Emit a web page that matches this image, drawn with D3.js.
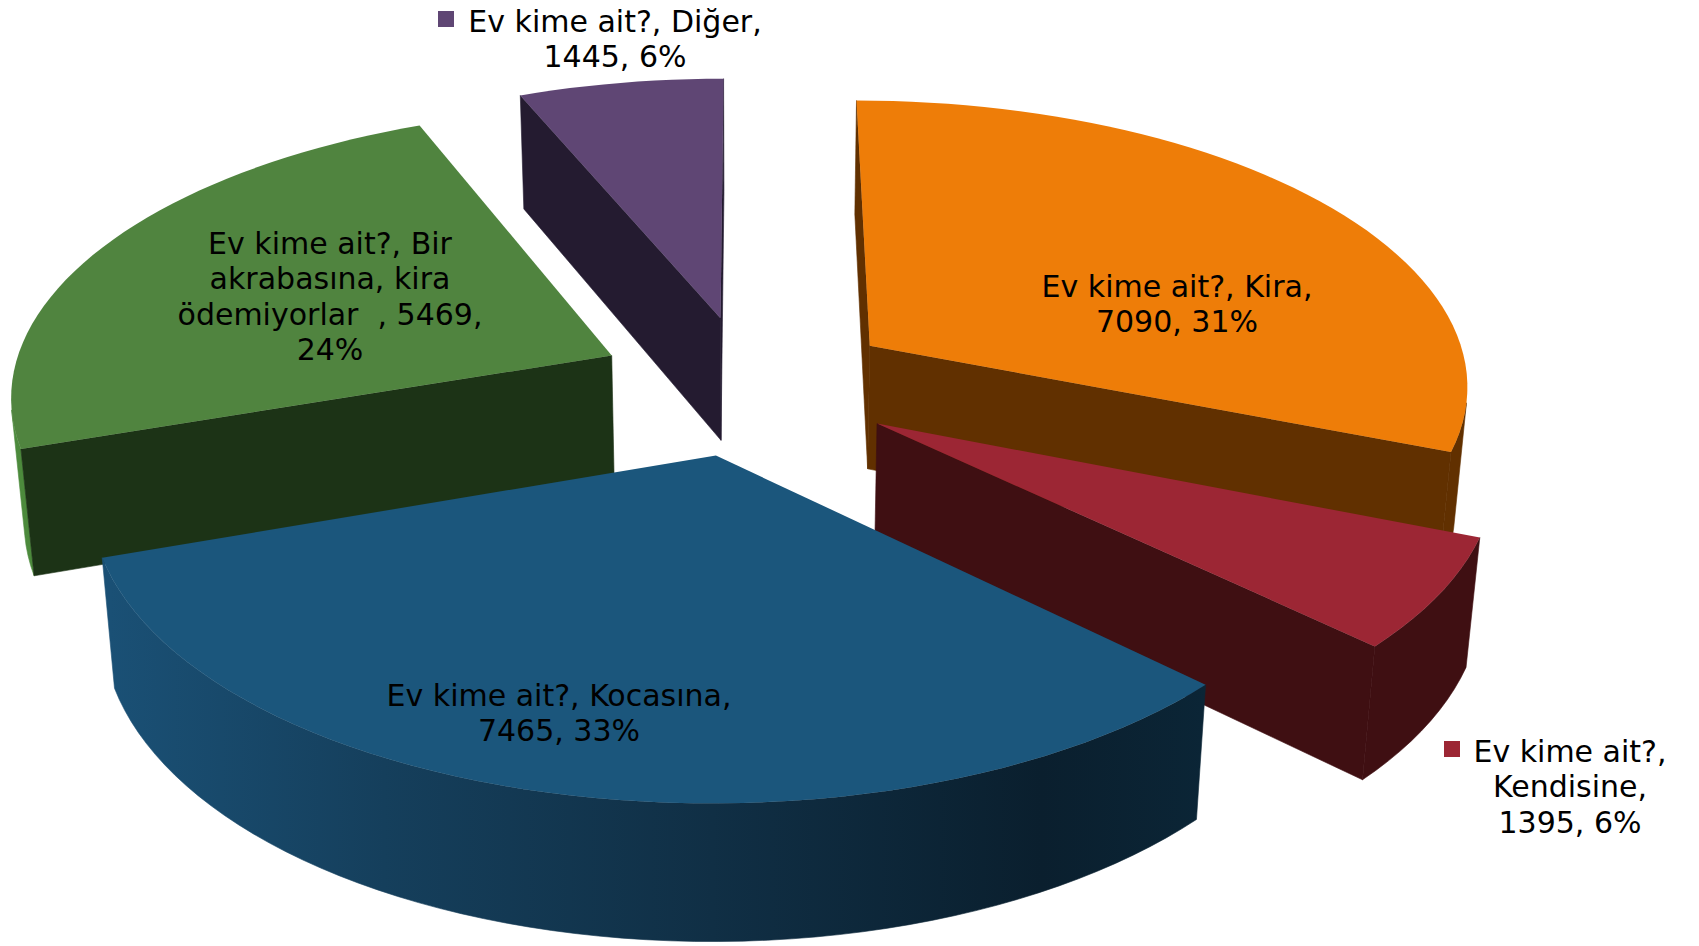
<!DOCTYPE html>
<html><head><meta charset="utf-8">
<style>html,body{margin:0;padding:0;background:#fff}svg{display:block}text{font-family:"DejaVu Sans",Verdana,sans-serif;fill:#000}</style>
<script src="https://cdnjs.cloudflare.com/ajax/libs/d3/7.8.5/d3.min.js"></script>
</head><body><svg id="c" width="1699" height="946"></svg>
<script>
const categories = ["Kira","Kendisine","Kocasına","Bir akrabasına, kira ödemiyorlar  ","Diğer"];
const values = [7090,1395,7465,5469,1445];
const percents = ["31%","6%","33%","24%","6%"];
const labelLines = [
  ["Ev kime ait?, Kira,","7090, 31%"],
  ["Ev kime ait?,","Kendisine,","1395, 6%"],
  ["Ev kime ait?, Kocasına,","7465, 33%"],
  ["Ev kime ait?, Bir","akrabasına, kira","ödemiyorlar\u00a0 , 5469,","24%"],
  ["Ev kime ait?, Diğer,","1445, 6%"]
];
const topColors = ["#ee7d08","#9c2634","#1b567c","#50843f","#5f4674"];
const wallColors = ["#613000","#3f0f12","#1b567c","#1c3316","#241b30"];
const rimStops = [
  [[0,"#613000"],[1,"#613000"]],
  [[0,"#3f0f12"],[1,"#3f0f12"]],
  [[0,"#1a5075"],[0.25,"#153f5c"],[0.55,"#102f45"],[0.85,"#0a1f2e"],[1,"#0b2536"]],
  [[0,"#4c8a3c"],[1,"#4c8a3c"]],
  [[0,"#241b30"],[1,"#241b30"]]
];
const labelCenters = [[1177,286],[1570,751],[559,695],[330,243],[615,21]];
const keyBoxes = [[1005,275],[1444,741],[358,686],[148,236],[438,11]];
const drawOrder = [4,3,0,1,2];
const explode = [0.2475,0.249,0.247,0.253,0.245];

const S = 1699/1568;
const view = {cx:691*S, cy:355*S, a:555*S, b:263*S, c:117*S, k:0.125, m:0.018};
const project = (x,y,z) => {
  const w = 1 - view.k*y + view.m*z;
  return [view.cx + view.a*x/w, view.cy + (view.b*y + view.c*z)/w];
};
const pie = d3.pie().sort(null).value(d=>d).startAngle(0).endAngle(2*Math.PI);
const arcs = pie(values);
const svg = d3.select("#c");
const defs = svg.append("defs");
const line = d3.line();
const STEP = 2*Math.PI/180;
const quad = (p,q)=>[project(p[0],p[1],0),project(q[0],q[1],0),project(q[0],q[1],1),project(p[0],p[1],1)];

rimStops.forEach((stops,i)=>{
  const lg = defs.append("linearGradient").attr("id","rim"+i).attr("gradientUnits","userSpaceOnUse")
    .attr("x1",110).attr("x2",1205).attr("y1",0).attr("y2",0);
  lg.selectAll("stop").data(stops).join("stop").attr("offset",d=>d[0]).attr("stop-color",d=>d[1]);
});

drawOrder.forEach(i=>{
  const s = arcs[i], mid=(s.startAngle+s.endAngle)/2;
  const ox = explode[i]*Math.sin(mid), oy = -explode[i]*Math.cos(mid);
  const n = Math.ceil((s.endAngle-s.startAngle)/STEP);
  const rim = d3.range(n+1).map(j=>{
    const t = s.startAngle+(s.endAngle-s.startAngle)*j/n;
    return [ox+Math.sin(t),oy-Math.cos(t)];
  });
  const apex = [ox,oy];
  const g = svg.append("g");
  // curved outer wall: one path per contiguous visible run
  const runs=[]; let cur=null;
  d3.range(n).forEach(j=>{
    if(d3.polygonArea(quad(rim[j],rim[j+1]))>0){
      if(!cur){cur=[rim[j]];runs.push(cur);}
      cur.push(rim[j+1]);
    } else cur=null;
  });
  runs.forEach(r=>{
    const top=r.map(p=>project(p[0],p[1],0));
    const bot=r.map(p=>project(p[0],p[1],1)).reverse();
    g.append("path").attr("d",line(top.concat(bot))+"Z").attr("fill","url(#rim"+i+")")
      .attr("stroke","url(#rim"+i+")").attr("stroke-width",0.6);
  });
  // radial side walls
  [[apex,rim[0]],[rim[n],apex]].map(e=>quad(e[0],e[1])).filter(q=>d3.polygonArea(q)>0).forEach(q=>{
    g.append("path").attr("d",line(q)+"Z").attr("fill",wallColors[i]).attr("stroke",wallColors[i]).attr("stroke-width",0.6);
  });
  g.append("path").attr("d",line([apex].concat(rim).map(p=>project(p[0],p[1],0)))+"Z").attr("fill",topColors[i]);
});

const FS=30, LH=35.6;
labelLines.forEach((lines,i)=>{
  svg.append("rect").attr("x",keyBoxes[i][0]).attr("y",keyBoxes[i][1]).attr("width",16).attr("height",16).attr("fill",topColors[i]);
  const t = svg.append("text").attr("text-anchor","middle").attr("font-size",FS);
  lines.forEach((l,j)=>t.append("tspan").attr("x",labelCenters[i][0]).attr("y",labelCenters[i][1]+FS*0.35+j*LH).text(l));
});
</script></body></html>
